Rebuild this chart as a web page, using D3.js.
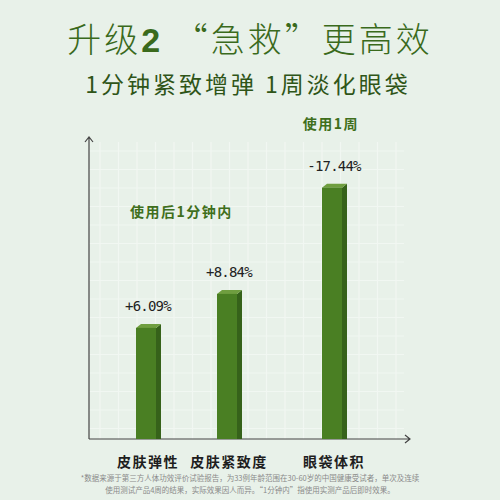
<!DOCTYPE html>
<html>
<head>
<meta charset="utf-8">
<script src="https://cdn.jsdelivr.net/npm/d3@7"></script>
<style>
  body { margin: 0; background: #e8f1e9; }
  svg { display: block; }
</style>
</head>
<body>
<div id="chart"></div>
<script>
const categories = ["皮肤弹性", "皮肤紧致度", "眼袋体积"];
const values = [6.09, 8.84, 17.44];
const valueLabels = ["+6.09%", "+8.84%", "-17.44%"];
const groupLabels = ["使用后1分钟内", "使用1周"];
const footnotes = [
  "*数据来源于第三方人体功效评价试验报告，为33例年龄范围在30-60岁的中国健康受试者，单次及连续",
  "使用测试产品4周的结果，实际效果因人而异。“1分钟内”指使用实测产品后即时效果。"
];

const drawChart = () => {
  const width = 500;
  const height = 500;
  const axis = { left: 89, right: 410, top: 137, bottom: 439 };
  const barCenters = [146, 227, 332];
  const barW = 20;
  const depth = 5;

  const svg = d3.select("#chart")
    .append("svg")
    .attr("width", width)
    .attr("height", height);

  svg.append("rect")
    .attr("width", width)
    .attr("height", height)
    .attr("fill", "#e8f1e9");

  const x = d3.scaleOrdinal().domain(categories).range(barCenters);
  const y = d3.scaleLinear().domain([-2.9, 20]).range([axis.bottom, 156]);

  // grid
  const grid = svg.append("g").attr("opacity", 0.6);
  grid.selectAll(".gv")
    .data(d3.range(100, 405, 18.5))
    .join("line")
    .attr("x1", d => d).attr("x2", d => d)
    .attr("y1", 142).attr("y2", axis.bottom)
    .attr("stroke", "#f8fbf8")
    .attr("stroke-width", 1.2);
  grid.selectAll(".gh")
    .data(d3.range(151, axis.bottom, 18.5))
    .join("line")
    .attr("x1", axis.left).attr("x2", 404)
    .attr("y1", d => d).attr("y2", d => d)
    .attr("stroke", "#f8fbf8")
    .attr("stroke-width", 1.2);

  // axes
  svg.append("path")
    .attr("d", `M${axis.left},${axis.bottom}V${axis.top}M${axis.left - 4},${axis.top + 5}L${axis.left},${axis.top}L${axis.left + 4},${axis.top + 5}`)
    .attr("fill", "none").attr("stroke", "#444").attr("stroke-width", 1.2);
  svg.append("path")
    .attr("d", `M${axis.left},${axis.bottom}H${axis.right}M${axis.right - 5},${axis.bottom - 4}L${axis.right},${axis.bottom}L${axis.right - 5},${axis.bottom + 4}`)
    .attr("fill", "none").attr("stroke", "#444").attr("stroke-width", 1.2);

  const bars = svg.append("g")
    .selectAll("g")
    .data(categories.map((c, i) => ({ c, v: values[i], label: valueLabels[i] })))
    .join("g");

  // side face
  bars.append("path")
    .attr("d", d => {
      const x0 = x(d.c) - barW / 2 + barW;
      const yt = y(d.v);
      return `M${x0},${yt}L${x0 + depth},${yt - 4}L${x0 + depth},${axis.bottom}L${x0},${axis.bottom}Z`;
    })
    .attr("fill", "#36621a");
  // top face
  bars.append("path")
    .attr("d", d => {
      const x0 = x(d.c) - barW / 2;
      const yt = y(d.v);
      return `M${x0},${yt}L${x0 + depth},${yt - 4}L${x0 + barW + depth},${yt - 4}L${x0 + barW},${yt}Z`;
    })
    .attr("fill", "#6f9e3f");
  // front face
  bars.append("rect")
    .attr("x", d => x(d.c) - barW / 2)
    .attr("y", d => y(d.v))
    .attr("width", barW)
    .attr("height", d => axis.bottom - y(d.v))
    .attr("fill", "#4a7f23");

  bars.append("text")
    .attr("x", d => x(d.c) + 2)
    .attr("y", d => y(d.v) - 17)
    .attr("text-anchor", "middle")
    .attr("font-family", "'DejaVu Sans Mono', monospace")
    .attr("font-size", 14)
    .attr("fill", "#222")
    .attr("letter-spacing", -0.8)
    .text(d => d.label);

  // category labels
  svg.append("g")
    .selectAll("text")
    .data(categories)
    .join("text")
    .attr("x", d => x(d) + 2)
    .attr("y", 467)
    .attr("text-anchor", "middle")
    .attr("font-family", "'Noto Sans CJK SC', sans-serif")
    .attr("font-size", 14)
    .attr("font-weight", "bold")
    .attr("letter-spacing", 1.5)
    .attr("fill", "#1e1e1e")
    .text(d => d);

  // group labels
  svg.append("text")
    .attr("x", (x(categories[0]) + x(categories[1])) / 2 - 5)
    .attr("y", 217)
    .attr("text-anchor", "middle")
    .attr("font-family", "'Noto Sans CJK SC', sans-serif")
    .attr("font-size", 14)
    .attr("font-weight", "bold")
    .attr("letter-spacing", 1.5)
    .attr("fill", "#3f6f1c")
    .text(groupLabels[0]);
  svg.append("text")
    .attr("x", x(categories[2]) - 1)
    .attr("y", 129)
    .attr("text-anchor", "middle")
    .attr("font-family", "'Noto Sans CJK SC', sans-serif")
    .attr("font-size", 14)
    .attr("font-weight", "bold")
    .attr("letter-spacing", 1.5)
    .attr("fill", "#3f6f1c")
    .text(groupLabels[1]);

  // title
  const title = svg.append("text")
    .attr("x", width / 2)
    .attr("y", 52)
    .attr("text-anchor", "middle")
    .attr("font-family", "'Noto Sans CJK SC', sans-serif")
    .attr("font-size", 34)
    .attr("font-weight", 300)
    .attr("fill", "#3a6a1c")
    .attr("letter-spacing", 3);
  title.append("tspan").text("升级");
  title.append("tspan").attr("font-weight", "bold").attr("font-family", "'Liberation Sans', sans-serif").text("2");
  title.append("tspan").text(" “急救”更高效");

  svg.append("text")
    .attr("x", width / 2 - 2)
    .attr("y", 93)
    .attr("text-anchor", "middle")
    .attr("font-family", "'Noto Sans CJK SC', sans-serif")
    .attr("font-size", 23)
    .attr("font-weight", 400)
    .attr("fill", "#2f5518")
    .attr("letter-spacing", 3)
    .text("1分钟紧致增弹 1周淡化眼袋");

  // footnote
  svg.append("g")
    .selectAll("text")
    .data(footnotes)
    .join("text")
    .attr("x", width / 2)
    .attr("y", (d, i) => 481 + i * 12)
    .attr("text-anchor", "middle")
    .attr("font-family", "'Noto Sans CJK SC', sans-serif")
    .attr("font-size", 7.5)
    .attr("fill", "#8a8a8a")
    .text(d => d);
};

drawChart();
</script>
</body>
</html>
